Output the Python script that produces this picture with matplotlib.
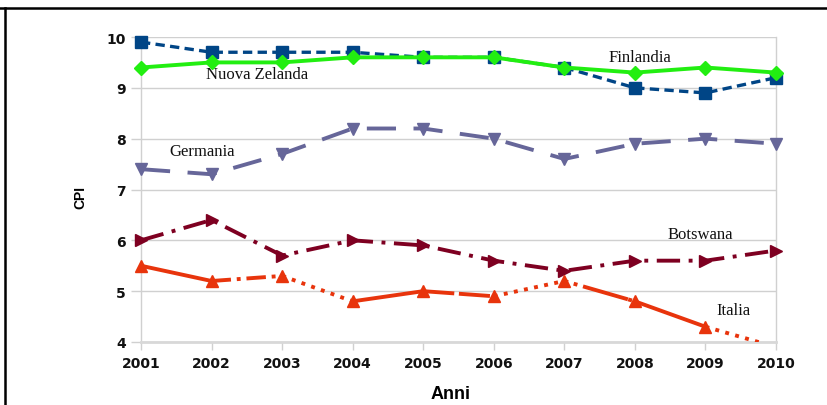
import numpy as np
import matplotlib
matplotlib.use("Agg")
import matplotlib.pyplot as plt
from matplotlib.lines import Line2D

# ---------------- Data ----------------
anni = [2001, 2002, 2003, 2004, 2005, 2006, 2007, 2008, 2009, 2010]
finlandia = [9.9, 9.7, 9.7, 9.7, 9.6, 9.6, 9.4, 9.0, 8.9, 9.2]
nuova_zelanda = [9.4, 9.5, 9.5, 9.6, 9.6, 9.6, 9.4, 9.3, 9.4, 9.3]
germania = [7.4, 7.3, 7.7, 8.2, 8.2, 8.0, 7.6, 7.9, 8.0, 7.9]
botswana = [6.0, 6.4, 5.7, 6.0, 5.9, 5.6, 5.4, 5.6, 5.6, 5.8]
italia = [5.5, 5.2, 5.3, 4.8, 5.0, 4.9, 5.2, 4.8, 4.3, 3.9]
y_ticks = [4, 5, 6, 7, 8, 9, 10]

# LibreOffice style: Italia line changes pattern between points
italia_styles = ['-', (0, (5, 1.5, 1, 1.5)), ':', '-', (0, (8, 1.2)), ':', (0, (1, 1.5, 1, 1.5, 12, 0.1)), '-', ':']

# ---------------- Figure ----------------
fig = plt.figure(figsize=(8.28, 4.06), dpi=100)
ax = fig.add_axes([141 / 828, 63 / 406, 635 / 828, 305 / 406])

grid_col = '#d0d0d0'
lw = 2.4

ax.plot(anni, finlandia, color='#004586', lw=lw, ls=(0, (2.8, 1.6)),
        marker='s', ms=9, clip_on=False, zorder=3)
ax.plot(anni, nuova_zelanda, color='#22ee11', lw=lw + 0.4, ls='-',
        marker='D', ms=7.5, clip_on=False, zorder=4)
ax.plot(anni, germania, color='#666699', lw=lw + 0.4, ls=(0, (7.5, 4.5)),
        marker='v', ms=9, clip_on=False, zorder=3)
ax.plot(anni, botswana, color='#7e0021', lw=lw + 0.4, ls=(0, (6, 2.2, 1, 2.2)),
        marker='>', ms=9, clip_on=False, zorder=3)

# Italia: one segment at a time, line clipped, markers only inside the range
for i in range(len(anni) - 1):
    ax.plot(anni[i:i + 2], italia[i:i + 2], color='#e8340c', lw=lw + 0.4,
            ls=italia_styles[i], solid_capstyle='butt', zorder=3)
italia_pts = np.ma.masked_less(np.array(italia), y_ticks[0])
ax.plot(anni, italia_pts, color='#e8340c', ls='none', marker='^', ms=9,
        clip_on=False, zorder=3)

ax.set_xlim(anni[0], anni[-1])
ax.set_ylim(y_ticks[0], y_ticks[-1])
ax.set_xticks(anni)
ax.set_yticks(y_ticks)
ax.yaxis.grid(True, color=grid_col, lw=1)
ax.set_axisbelow(True)

for s in ['left', 'right']:
    ax.spines[s].set_color(grid_col)
    ax.spines[s].set_linewidth(1)
ax.spines['bottom'].set_color('#d8d8d8')
ax.spines['bottom'].set_linewidth(2)
ax.spines['top'].set_visible(False)

ax.tick_params(axis='both', direction='out', color=grid_col, width=1)
ax.tick_params(axis='x', length=6, pad=4)
ax.tick_params(axis='y', length=7, pad=4)
for lab in ax.get_xticklabels() + ax.get_yticklabels():
    lab.set_fontfamily('DejaVu Sans')
    lab.set_fontweight('bold')
    lab.set_fontsize(10)
    lab.set_color('#111111')

fig.text(80 / 828, 1 - 198 / 406, 'CPI', rotation=90, ha='center', va='center',
         family='Liberation Sans', weight='bold', fontsize=10)
fig.text(451 / 828, 1 - 395 / 406, 'Anni', ha='center', va='center',
         family='Liberation Sans', weight='bold', fontsize=13)

# series names written beside the lines
serif = dict(family='Liberation Serif', fontsize=12, ha='center', va='center', color='#111111')
ax.text(2002.64, 9.27, 'Nuova Zelanda', **serif)
ax.text(2001.86, 7.76, 'Germania', **serif)
ax.text(2008.07, 9.61, 'Finlandia', **serif)
ax.text(2008.92, 6.12, 'Botswana', **serif)
ax.text(2009.39, 4.63, 'Italia', **serif)

# page frame lines (top and left)
fig.add_artist(Line2D([0, 1], [1 - 9 / 406] * 2, color='black', lw=1.8))
fig.add_artist(Line2D([5 / 828] * 2, [0, 1 - 9 / 406], color='black', lw=1.8))

fig.savefig('out.png', dpi=100)
